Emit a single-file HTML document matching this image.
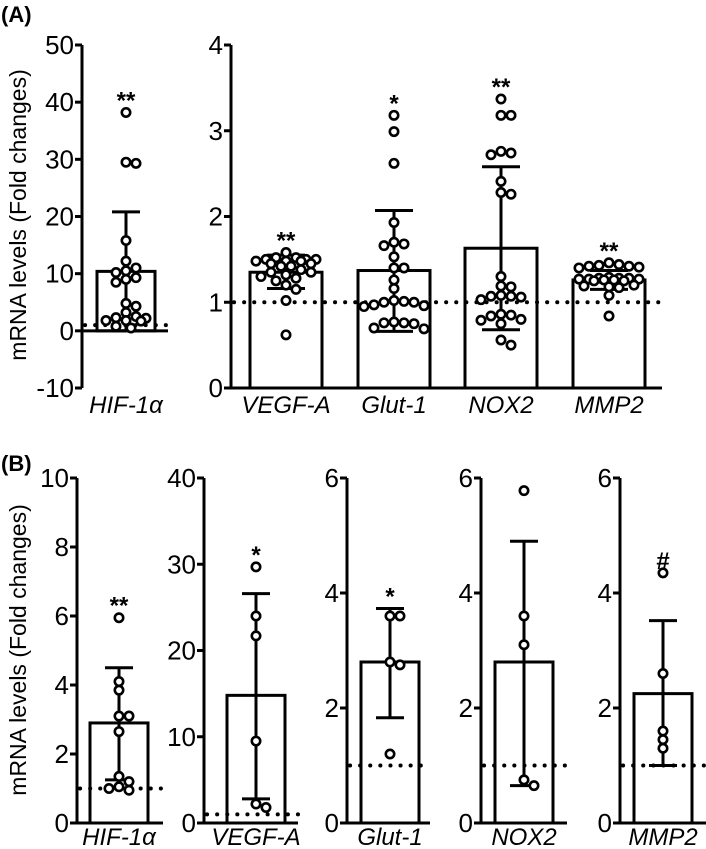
<!DOCTYPE html>
<html><head><meta charset="utf-8"><style>
html,body{margin:0;padding:0;background:#fff;}
svg{display:block;font-family:"Liberation Sans",Arial,sans-serif;}
</style></head><body>
<svg id="fig" width="706" height="849" viewBox="0 0 706 849" xmlns="http://www.w3.org/2000/svg">
<text x="1" y="22" style="font-size:22px;font-weight:bold">(A)</text>
<text x="1" y="471" style="font-size:22px;font-weight:bold">(B)</text>
<text transform="translate(26,215) rotate(-90)" text-anchor="middle" style="font-size:23px">mRNA levels (Fold changes)</text>
<text transform="translate(26,650) rotate(-90)" text-anchor="middle" style="font-size:23px">mRNA levels (Fold changes)</text>
</svg>
<script>
// ---- data ----
const catsA1 = ["HIF-1α"];
const meansA1 = [10.4];
const errHiA1 = [20.8];
const errLoA1 = [0];
const ptsA1 = [[38.2,29.3,29.5,15.8,12.2,10.5,11,10.2,9.3,8.5,9,4.8,4.3,3.2,2.5,2.2,2.3,1.8,1.7,1.8,0.8,0.5]];
const starsA1 = ["**"];
const ticksA1 = [-10,0,10,20,30,40,50];

const catsA2 = ["VEGF-A","Glut-1","NOX2","MMP2"];
const meansA2 = [1.35,1.37,1.63,1.26];
const errHiA2 = [1.55,2.07,2.58,1.37];
const errLoA2 = [1.16,0.66,0.68,1.15];
const ptsA2 = [
 [1.58,1.52,1.52,1.5,1.5,1.5,1.48,1.48,1.48,1.45,1.45,1.42,1.42,1.38,1.35,1.35,1.32,1.3,1.28,1.25,1.2,1.15,1.02,0.62],
 [3.18,2.99,2.62,1.93,1.70,1.68,1.66,1.53,1.40,1.40,1.26,1.16,1.02,1.01,1.0,1.0,0.97,0.96,0.95,0.77,0.76,0.76,0.75,0.70,0.69],
 [3.37,3.18,3.18,2.76,2.74,2.72,2.41,2.28,2.26,1.30,1.19,1.18,1.08,1.07,1.07,1.06,1.03,0.86,0.85,0.84,0.80,0.79,0.75,0.56,0.50],
 [1.46,1.44,1.43,1.42,1.42,1.41,1.40,1.29,1.28,1.28,1.28,1.27,1.27,1.27,1.26,1.26,1.25,1.25,1.20,1.19,1.18,1.17,1.08,0.84]
];
const starsA2 = ["**","*","**","**"];
const ticksA2 = [0,1,2,3,4];

const catsB = ["HIF-1α","VEGF-A","Glut-1","NOX2","MMP2"];
const meansB = [2.9,14.8,2.8,2.8,2.25];
const errHiB = [4.5,26.6,3.73,4.9,3.52];
const errLoB = [1.25,2.8,1.83,0.65,1.0];
const ptsB = [[5.95,4.1,3.85,3.1,3.1,2.65,1.35,1.2,0.95,1.0,1.05],[29.7,24,21.7,9.5,1.8,2.2],[3.6,3.6,2.8,2.75,1.2],[5.78,3.6,3.1,0.65,0.75],[4.35,2.6,1.6,1.45,1.3]];
const starsB = ["**","*","*","","#"];
const ymaxB = [10,40,6,6,6];
const ticksB = [[0,2,4,6,8,10],[0,10,20,30,40],[0,2,4,6],[0,2,4,6],[0,2,4,6]];

// ---- drawing ----
const NS = "http://www.w3.org/2000/svg";
const svg = document.getElementById("fig");
function mk(tag, attrs, parent){ const e=document.createElementNS(NS,tag); for(const k in attrs) e.setAttribute(k,attrs[k]); (parent||svg).appendChild(e); return e; }

function panel(o){
  const g = mk("g",{});
  
  
  const y = v => o.y0 + (v - o.vmin)/(o.vmax - o.vmin)*(o.y1 - o.y0);
  const ax = mk("line",{x1:o.ax,x2:o.ax,y1:y(o.vmax),y2:y(o.vmin),stroke:"#000","stroke-width":3},g);
  
  
  o.ticks.forEach(t=>{
    mk("line",{x1:o.ax-7,x2:o.ax,y1:y(t),y2:y(t),stroke:"#000","stroke-width":3},g);
    const tl = mk("text",{x:o.ax-8,y:y(t)+9,"text-anchor":"end",style:"font-size:26px"},g);
    tl.textContent = t;
    
    
  });
  const xa = mk("line",{x1:o.ax,x2:o.xr,y1:y(0),y2:y(0),stroke:"#000","stroke-width":3},g);
  
  
  const dl = mk("line",{x1:o.ax+3,x2:o.xr,y1:y(1),y2:y(1),stroke:"#000","stroke-width":4,"stroke-dasharray":"0.1 10","stroke-linecap":"round"},g);
  
  
  o.cats.forEach((c,i)=>{
    const cx = o.cx[i], w=o.bw;
    const bar = mk("rect",{x:cx-w/2,y:y(o.means[i]),width:w,height:y(0)-y(o.means[i]),fill:"none",stroke:"#000","stroke-width":3},g);
    
    
    const eb = mk("g",{},g);
    
    
    mk("line",{x1:cx,x2:cx,y1:y(o.hi[i]),y2:y(o.lo[i]),stroke:"#000","stroke-width":3},eb);
    mk("line",{x1:cx-o.cap,x2:cx+o.cap,y1:y(o.hi[i]),y2:y(o.hi[i]),stroke:"#000","stroke-width":3},eb);
    mk("line",{x1:cx-o.cap,x2:cx+o.cap,y1:y(o.lo[i]),y2:y(o.lo[i]),stroke:"#000","stroke-width":3},eb);
    const vals = o.pts[i].slice().sort((a,b)=>b-a);
    const placed=[];
    const maxOff = w/2 - 2;
    vals.forEach(v=>{
      const py=y(v); let best=0, bestD=-1;
      for(let k=0;k<60;k++){
        const cand = k===0?0:(k%2?1:-1)*Math.ceil(k/2)*5;
        if(Math.abs(cand)>maxOff) continue;
        const d = placed.length? Math.min(...placed.map(p=>Math.hypot(p[0]-(cx+cand),p[1]-py))) : 99;
        if(d>=8.5){best=cand;bestD=d;break;}
        if(d>bestD){bestD=d;best=cand;}
      }
      placed.push([cx+best,py]);
      const d = mk("circle",{cx:cx+best,cy:py,r:4.2,fill:"#fff",stroke:"#000","stroke-width":2.6},g);
      
      
    });
    if(o.stars[i]){
      const top = Math.max(...o.pts[i], o.hi[i]);
      const st = mk("text",{x:cx,y:y(top)-4,"text-anchor":"middle",style:"font-size:24px;font-weight:bold"},g);
      st.textContent = o.stars[i];
      
      
    }
    const lb = mk("text",{x:cx,y:o.labY,"text-anchor":"middle",style:"font-size:24px;font-style:italic"},g);
    lb.textContent = c;
    
    
  });
}

panel({name:"panel-a-hif",ax:82,xr:168,y0:388,y1:45,vmin:-10,vmax:50,ticks:ticksA1,cats:catsA1,means:meansA1,hi:errHiA1,lo:errLoA1,pts:ptsA1,stars:starsA1,cx:[126],bw:58,cap:14,labY:413});
panel({name:"panel-a-genes",ax:231,xr:662,y0:388,y1:45,vmin:0,vmax:4,ticks:ticksA2,cats:catsA2,means:meansA2,hi:errHiA2,lo:errLoA2,pts:ptsA2,stars:starsA2,cx:[286,394,501,609],bw:72,cap:19,labY:413});
const bAx=[77,204,347,481,620], bXr=[163,298,430,567,706], bCx=[119,256,390,524,663];
catsB.forEach((c,i)=>{
  panel({name:"panel-b-"+c.toLowerCase(),ax:bAx[i],xr:bXr[i],y0:823,y1:478,vmin:0,vmax:ymaxB[i],ticks:ticksB[i],cats:[c],means:[meansB[i]],hi:[errHiB[i]],lo:[errLoB[i]],pts:[ptsB[i]],stars:[starsB[i]],cx:[bCx[i]],bw:58,cap:14,labY:845});
});
</script>
</body></html>
